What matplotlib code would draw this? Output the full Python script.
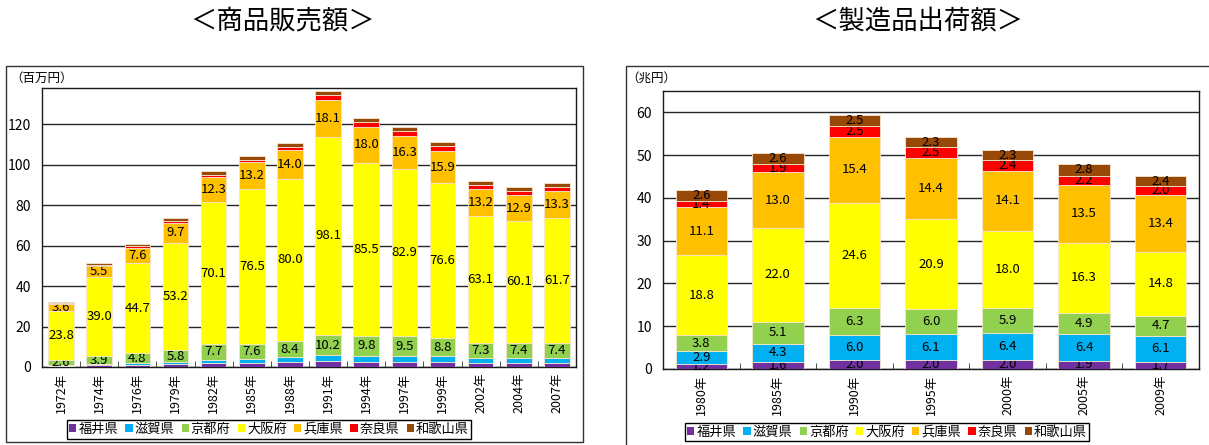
import numpy as np
import matplotlib
matplotlib.use("Agg")
import matplotlib.pyplot as plt
from matplotlib.patches import Rectangle

plt.rcParams['font.family'] = ['Noto Sans CJK JP', 'DejaVu Sans']

prefs = ['福井県', '滋賀県', '京都府', '大阪府', '兵庫県', '奈良県', '和歌山県']
colors = ['#7030A0', '#00B0F0', '#92D050', '#FFFF00', '#FFC000', '#FF0000', '#984807']

# 商品販売額 (百万円)
sales_years = ['1972年', '1974年', '1976年', '1979年', '1982年', '1985年', '1988年',
               '1991年', '1994年', '1997年', '1999年', '2002年', '2004年', '2007年']
sales_fukui = [0.5, 0.8, 1.0, 1.5, 2.0, 2.0, 2.5, 2.8, 2.7, 2.6, 2.4, 1.9, 1.9, 1.8]
sales_shiga = [0.6, 0.7, 1.0, 1.0, 1.7, 2.0, 2.2, 2.9, 2.9, 3.0, 3.0, 2.6, 2.7, 2.7]
sales_kyoto = [2.6, 3.9, 4.8, 5.8, 7.7, 7.6, 8.4, 10.2, 9.8, 9.5, 8.8, 7.3, 7.4, 7.4]
sales_osaka = [23.8, 39.0, 44.7, 53.2, 70.1, 76.5, 80.0, 98.1, 85.5, 82.9, 76.6, 63.1, 60.1, 61.7]
sales_hyogo = [3.6, 5.5, 7.6, 9.7, 12.3, 13.2, 14.0, 18.1, 18.0, 16.3, 15.9, 13.2, 12.9, 13.3]
sales_nara = [0.4, 0.6, 0.8, 1.2, 1.4, 1.3, 1.7, 2.2, 2.3, 2.3, 2.4, 2.0, 2.1, 2.0]
sales_wakayama = [0.5, 0.7, 0.8, 1.2, 1.8, 2.0, 2.0, 2.2, 2.1, 2.2, 2.3, 2.0, 1.9, 1.9]

# 製造品出荷額 (兆円)
ship_years = ['1980年', '1985年', '1990年', '1995年', '2000年', '2005年', '2009年']
ship_fukui = [1.2, 1.6, 2.0, 2.0, 2.0, 1.9, 1.7]
ship_shiga = [2.9, 4.3, 6.0, 6.1, 6.4, 6.4, 6.1]
ship_kyoto = [3.8, 5.1, 6.3, 6.0, 5.9, 4.9, 4.7]
ship_osaka = [18.8, 22.0, 24.6, 20.9, 18.0, 16.3, 14.8]
ship_hyogo = [11.1, 13.0, 15.4, 14.4, 14.1, 13.5, 13.4]
ship_nara = [1.4, 1.9, 2.5, 2.5, 2.4, 2.2, 2.0]
ship_wakayama = [2.6, 2.6, 2.5, 2.3, 2.3, 2.8, 2.4]

sales = [sales_fukui, sales_shiga, sales_kyoto, sales_osaka, sales_hyogo, sales_nara, sales_wakayama]
ship = [ship_fukui, ship_shiga, ship_kyoto, ship_osaka, ship_hyogo, ship_nara, ship_wakayama]

W, H = 1209, 445
fig = plt.figure(figsize=(W / 100, H / 100), dpi=100)


def px_rect(x0, y0, x1, y1):
    # pixel box (top-left origin) -> figure fraction [l, b, w, h]
    return [x0 / W, 1 - y1 / H, (x1 - x0) / W, (y1 - y0) / H]


def stacked(ax, years, series, labelled, ymax, ystep, lsize):
    n = len(years)
    x = np.arange(n)
    bottom = np.zeros(n)
    handles = []
    for i, vals in enumerate(series):
        vals = np.array(vals)
        bars = ax.bar(x, vals, 0.67, bottom=bottom, color=colors[i],
                      edgecolor='#f4e6d0', linewidth=0.6, zorder=3)
        handles.append(bars)
        if i in labelled:
            ax.bar_label(bars, labels=[f'{v:.1f}' for v in vals], label_type='center',
                         fontsize=lsize, color='black')
        bottom += vals
    ax.set_xlim(-0.5, n - 0.5)
    ax.set_ylim(0, ymax)
    ax.set_yticks(np.arange(0, ymax, ystep))
    ax.grid(axis='y', color='0.15', linewidth=1.0, zorder=0)
    ax.set_axisbelow(True)
    ax.set_xticks(x)
    ax.set_xticklabels(years, rotation=90, fontsize=9)
    ax.set_xticks(np.arange(n + 1) - 0.5, minor=True)
    ax.tick_params(axis='x', which='major', length=0, pad=4)
    ax.tick_params(axis='x', which='minor', length=4, direction='in', color='0.2')
    ax.tick_params(axis='y', length=0, labelsize=10, pad=8)
    for s in ax.spines.values():
        s.set_color('0.1')
        s.set_linewidth(1.0)
    return handles


# outer chart frames
fig.patches.append(Rectangle((6 / W, 1 - 442 / H), 577 / W, 376 / H, transform=fig.transFigure,
                             fill=False, edgecolor='0.2', linewidth=1.0))
fig.patches.append(Rectangle((626 / W, -0.05), 0.5, 1 - 66 / H + 0.05, transform=fig.transFigure,
                             fill=False, edgecolor='0.2', linewidth=1.0))

ax1 = fig.add_axes(px_rect(42, 88, 576, 367))
h1 = stacked(ax1, sales_years, sales, {2, 3, 4}, 138, 20, 9.5)
ax2 = fig.add_axes(px_rect(663, 91, 1199, 369))
h2 = stacked(ax2, ship_years, ship, set(range(7)), 65, 10, 9.5)

fig.text(283 / W, 1 - 21 / H, '＜商品販売額＞', ha='center', va='center', fontsize=19)
fig.text(918 / W, 1 - 21 / H, '＜製造品出荷額＞', ha='center', va='center', fontsize=19)
fig.text(10 / W, 1 - 78 / H, '（百万円）', ha='left', va='center', fontsize=9)
fig.text(626 / W, 1 - 78 / H, '（兆円）', ha='left', va='center', fontsize=9)

for handles, cx, cy in [(h1, 269, 429.5), (h2, 887, 432)]:
    leg = fig.legend(handles, prefs, loc='center', bbox_to_anchor=(cx / W, 1 - cy / H),
                     ncol=7, fontsize=9.5, handlelength=0.55, handleheight=0.55,
                     handletextpad=0.15, columnspacing=0.55, borderpad=0.2,
                     fancybox=False, framealpha=1, edgecolor='black')
    leg.get_frame().set_linewidth(1.0)
    for p in leg.get_patches():
        p.set_edgecolor('none')

fig.savefig('out.png', dpi=100)
